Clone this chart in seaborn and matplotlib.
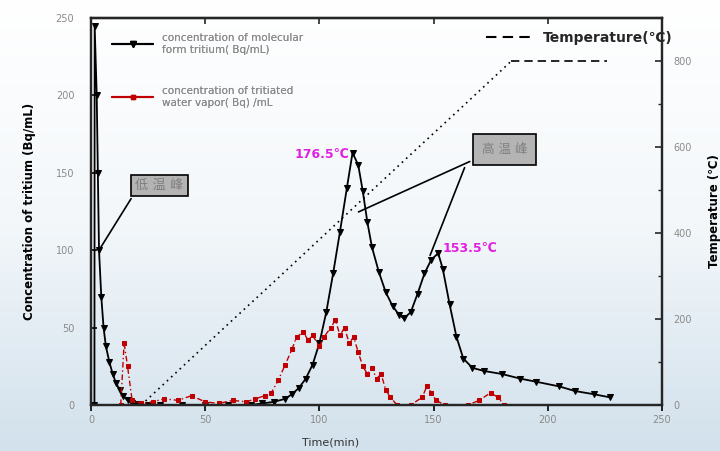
import matplotlib
matplotlib.use('Agg')
import matplotlib.pyplot as plt
import seaborn as sns
import numpy as np
from matplotlib.lines import Line2D


# data
#==============================================================================
# molecular form tritium (Bq/mL)
mol_time = [1.5, 1.6, 2.5, 3.0, 3.5, 4.5, 5.5, 6.5, 8, 9.5, 11, 12.5, 14, 16, 18, 20,
            25, 30, 40, 50, 60, 70, 75, 80, 85, 88, 91, 94, 97, 100, 103, 106,
            109, 112, 114.5, 117, 119, 121, 123, 126, 129, 132, 135, 137, 140,
            143, 146, 149, 152, 154, 157, 160, 163, 167, 172, 180, 188, 195,
            205, 212, 220, 227]
mol_conc = [0, 245, 200, 150, 100, 70, 50, 38, 28, 20, 14, 10, 6, 3, 1, 0.5,
            0, 0, 0, 0, 0, 0, 1, 2, 4, 7, 11, 17, 26, 40, 60, 85,
            112, 140, 163, 155, 138, 118, 102, 86, 73, 64, 58, 56, 60,
            72, 85, 94, 98, 88, 65, 44, 30, 24, 22, 20, 17, 15,
            12, 9, 7, 5]

# tritiated water vapor (Bq/mL)
wat_time = [13, 14.5, 16, 18, 22, 27, 32, 38, 44, 50, 56, 62, 68, 72, 76, 79,
            82, 85, 88, 90, 93, 95, 97, 100, 102, 105, 107, 109, 111, 113,
            115, 117, 119, 121, 123, 125, 127, 129, 131, 134, 140, 145, 147,
            149, 151, 155, 165, 170, 175, 178, 181]
wat_conc = [0, 40, 25, 3, 1, 2, 4, 3, 6, 2, 1, 3, 2, 4, 6, 8,
            16, 26, 36, 44, 47, 42, 45, 38, 44, 50, 55, 45, 50, 40,
            44, 34, 25, 20, 24, 17, 20, 10, 5, 0, 0, 5, 12,
            8, 3, 0, 0, 3, 8, 5, 0]

# temperature (deg C)
ramp_time = [22, 40, 60, 80, 100, 120, 140, 160, 180, 184]
ramp_temp = [0, 89, 188, 286, 385, 484, 583, 681, 780, 800]
hold_time = [184, 226]
hold_temp = [800, 800]

peak_labels = ['176.5℃', '153.5℃']
box_labels = ['低 温 峰', '高 温 峰']


# figure
#==============================================================================
sns.set_style('ticks')
plt.rcParams['font.family'] = ['DejaVu Sans', 'Noto Sans CJK SC']

fig = plt.figure(figsize=(7.2, 4.51), dpi=100)

# light blue slide-like background
bg = fig.add_axes([0, 0, 1, 1], zorder=-5)
grad = np.linspace(0, 1, 256).reshape(-1, 1)
bg.imshow(grad, aspect='auto', extent=[0, 1, 0, 1], origin='upper',
          cmap=matplotlib.colors.LinearSegmentedColormap.from_list(
              'bgc', ['#ffffff', '#f3f7fa', '#d2e1ec']))
bg.axis('off')

ax = fig.add_axes([0.1264, 0.102, 0.7931, 0.858])
ax.set_facecolor('none')

sns.lineplot(x=mol_time, y=mol_conc, ax=ax, sort=False, color='black',
             marker='v', markersize=5, markeredgecolor='black', linewidth=1.3)
sns.lineplot(x=wat_time, y=wat_conc, ax=ax, sort=False, color='#c00000',
             marker='s', markersize=3, markeredgecolor='#c00000',
             linewidth=1.0, linestyle=(0, (4, 2, 1, 2)))

ax.set_xlim(0, 250)
ax.set_ylim(0, 250)
ax.set_xticks([0, 50, 100, 150, 200, 250])
ax.set_yticks([0, 50, 100, 150, 200, 250])
ax.tick_params(axis='x', direction='out', length=4, width=1.2, colors='black',
               labelcolor='#8a8a8a', labelsize=7, top=False)
ax.tick_params(axis='y', direction='in', length=4, width=1.2, colors='black',
               labelcolor='#8a8a8a', labelsize=7, pad=12)
for s in ax.spines.values():
    s.set_linewidth(1.6)
    s.set_visible(True)

top = ax.secondary_xaxis('top')
top.set_xticks([0, 50, 100, 150, 200, 250])
top.tick_params(direction='in', length=4, width=1.2, labeltop=False)
top.spines['top'].set_linewidth(1.6)

ax.set_xlabel('Time(min)', fontsize=8, color='#333333')
ax.xaxis.set_label_coords(0.42, -0.083)
ax.set_ylabel('Concentration of tritium (Bq/mL)', fontsize=8.5,
              fontweight='bold', color='black')
ax.yaxis.set_label_coords(-0.097, 0.5)

# temperature on the right axis
ax2 = ax.twinx()
sns.lineplot(x=ramp_time, y=ramp_temp, ax=ax2, color='black',
             linewidth=1.2, linestyle=(0, (1, 2.5)))
sns.lineplot(x=hold_time, y=hold_temp, ax=ax2, color='black',
             linewidth=1.2, linestyle=(0, (5, 3)))
ax2.set_ylim(0, 900)
ax2.set_yticks([0, 200, 400, 600, 800])
ax2.set_yticks([100, 300, 500, 700], minor=True)
ax2.tick_params(axis='y', which='major', direction='in', length=5, width=1.2,
                labelcolor='#8a8a8a', labelsize=7, pad=8)
ax2.tick_params(axis='y', which='minor', direction='in', length=3, width=1.0)
ax2.set_ylabel('Temperature (℃)', fontsize=8.5, fontweight='bold',
               color='black')
ax2.yaxis.set_label_coords(1.08, 0.5)
for s in ax2.spines.values():
    s.set_linewidth(1.6)

# legends
h1 = Line2D([], [], color='black', marker='v', markersize=5, linewidth=1.5)
h2 = Line2D([], [], color='#c00000', marker='s', markersize=3, linewidth=1.5)
leg = ax.legend([h1, h2],
                ['concentration of molecular\nform tritium( Bq/mL)',
                 'concentration of tritiated\nwater vapor( Bq) /mL'],
                loc='upper left', bbox_to_anchor=(0.02, 0.985), frameon=False,
                fontsize=7.5, labelcolor='#8a8a8a', handlelength=4,
                labelspacing=3.0)
ax.add_artist(leg)
h3 = Line2D([], [], color='black', linestyle=(0, (5, 3)), linewidth=1.5)
ax2.legend([h3], ['Temperature(℃)'], loc='upper right',
           bbox_to_anchor=(1.04, 1.0), frameon=False,
           prop={'size': 10, 'weight': 'bold'}, handlelength=3.5,
           handletextpad=0.6)

# peak temperature labels
ax.text(101, 162, peak_labels[0], color='#e020e0', fontsize=9,
        fontweight='bold', ha='center', va='center')
ax.text(166, 101, peak_labels[1], color='#e020e0', fontsize=9,
        fontweight='bold', ha='center', va='center')

# grey call-out boxes
ax.annotate(box_labels[0], xy=(3.5, 100), xytext=(30, 142),
            fontsize=9.5, color='#808080', ha='center', va='center',
            bbox=dict(boxstyle='square,pad=0.3', facecolor='#b4b4b4',
                      edgecolor='black', linewidth=1.2),
            arrowprops=dict(arrowstyle='-', color='black', lw=1.2,
                            relpos=(0, 0)))
ax.annotate(box_labels[1], xy=(116, 124), xytext=(181, 165),
            fontsize=9, color='#808080', ha='center', va='center',
            bbox=dict(boxstyle='square,pad=0.7', facecolor='#b4b4b4',
                      edgecolor='black', linewidth=1.2),
            arrowprops=dict(arrowstyle='-', color='black', lw=1.2,
                            relpos=(0, 0)))
ax.annotate('', xy=(148, 95), xytext=(164, 155),
            arrowprops=dict(arrowstyle='-', color='black', lw=1.2))

fig.savefig('out.png', dpi=100)
